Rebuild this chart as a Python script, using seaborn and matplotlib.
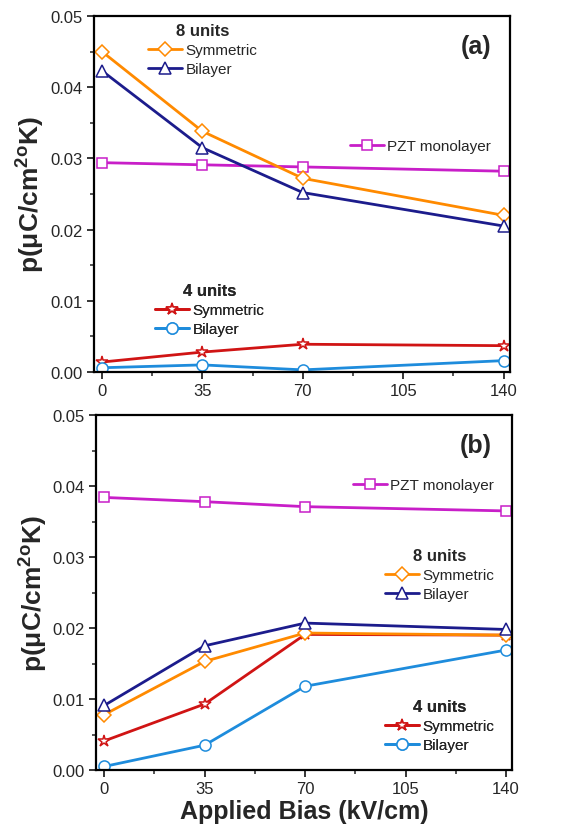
import matplotlib
matplotlib.use("Agg")
import matplotlib.pyplot as plt
from matplotlib.lines import Line2D
from matplotlib.ticker import MultipleLocator, FormatStrFormatter
import seaborn as sns

bias = [0, 35, 70, 140]

# panel (a)
a_pzt = [0.0294, 0.0291, 0.0288, 0.0282]
a_sym8 = [0.0450, 0.0338, 0.0272, 0.0220]
a_bil8 = [0.0423, 0.0315, 0.0252, 0.0205]
a_sym4 = [0.0014, 0.0028, 0.0039, 0.0037]
a_bil4 = [0.0006, 0.0010, 0.0003, 0.0016]

# panel (b)
b_pzt = [0.0384, 0.0378, 0.0371, 0.0365]
b_sym8 = [0.0078, 0.0153, 0.0193, 0.0190]
b_bil8 = [0.0091, 0.0175, 0.0207, 0.0198]
b_sym4 = [0.0041, 0.0093, 0.0191, 0.0190]
b_bil4 = [0.0005, 0.0035, 0.0118, 0.0169]

xticks = [0, 35, 70, 105, 140]

c_pzt = "#C81EC8"
c_sym8 = "#FF8A00"
c_bil8 = "#1C1C8C"
c_sym4 = "#D01414"
c_bil4 = "#1E8CDC"

sns.set_theme(style="ticks")
plt.rcParams["font.family"] = ["Liberation Sans", "DejaVu Sans"]
plt.rcParams["mathtext.fontset"] = "custom"
plt.rcParams["mathtext.rm"] = "Liberation Sans"
plt.rcParams["mathtext.bf"] = "Liberation Sans:bold"

fig = plt.figure(figsize=(5.66, 8.28), dpi=100)
ax1 = fig.add_axes([0.166, 0.5495, 0.735, 0.430])
ax2 = fig.add_axes([0.170, 0.0688, 0.735, 0.4287])


def series(ax, y, color, marker, ms=8):
    sns.lineplot(x=bias, y=y, ax=ax, color=color, marker=marker, linewidth=2,
                 markersize=ms, markerfacecolor="white", markeredgecolor=color,
                 markeredgewidth=1.1, legend=False)


def handle(color, marker, ms=8):
    return Line2D([], [], color=color, marker=marker, linewidth=2, markersize=ms,
                  markerfacecolor="white", markeredgecolor=color, markeredgewidth=1.1)


def add_legend(ax, handles, labels, anchor, title=None):
    leg = ax.legend(handles, labels, title=title, loc="upper left",
                    bbox_to_anchor=anchor, bbox_transform=fig.transFigure,
                    frameon=False, fontsize=11, handlelength=2.2,
                    handletextpad=0.25, labelspacing=0.33, borderpad=0,
                    borderaxespad=0, title_fontproperties={"weight": "bold", "size": 12})
    ax.add_artist(leg)
    return leg


for ax, data in [(ax1, (a_pzt, a_sym8, a_bil8, a_sym4, a_bil4)),
                 (ax2, (b_pzt, b_sym8, b_bil8, b_sym4, b_bil4))]:
    pzt, sym8, bil8, sym4, bil4 = data
    series(ax, pzt, c_pzt, "s", 7)
    series(ax, sym4, c_sym4, "*", 9)
    series(ax, bil4, c_bil4, "o", 8)
    series(ax, sym8, c_sym8, "D", 7)
    series(ax, bil8, c_bil8, "^", 8)

    ax.set_xlim(-2.8, 142.2)
    ax.set_ylim(0, 0.05)
    ax.set_xticks(xticks)
    ax.set_yticks([0, 0.01, 0.02, 0.03, 0.04, 0.05])
    ax.xaxis.set_minor_locator(MultipleLocator(17.5))
    ax.yaxis.set_minor_locator(MultipleLocator(0.005))
    ax.yaxis.set_major_formatter(FormatStrFormatter("%.2f"))
    ax.tick_params(which="major", direction="out", length=5, width=1.3, labelsize=12, pad=3)
    ax.tick_params(which="minor", direction="out", length=3, width=1.1)
    ax.tick_params(top=False, right=False, which="both")
    for s in ax.spines.values():
        s.set_visible(True)
        s.set_linewidth(1.6)
        s.set_color("black")
    ax.set_ylabel(r"p(μC/cm$^{\mathbf{2o}}$K)", fontsize=19, fontweight="bold", labelpad=3)
    ax.set_xlabel("")

ax2.set_xlabel("Applied Bias (kV/cm)", fontsize=18, fontweight="bold", labelpad=2)

ax1.text(0.955, 0.915, "(a)", transform=ax1.transAxes, ha="right", va="center",
         fontsize=18, fontweight="bold")
ax2.text(0.95, 0.915, "(b)", transform=ax2.transAxes, ha="right", va="center",
         fontsize=18, fontweight="bold")

# legends panel (a)
add_legend(ax1, [handle(c_sym8, "D", 7), handle(c_bil8, "^", 8)], ["Symmetric", "Bilayer"],
           (148 / 566, 1 - 24 / 828), title="8 units")
add_legend(ax1, [handle(c_pzt, "s", 7)], ["PZT monolayer"], (350 / 566, 1 - 140 / 828))
add_legend(ax1, [handle(c_sym4, "*", 9), handle(c_bil4, "o", 8)], ["Symmetric", "Bilayer"],
           (155 / 566, 1 - 284 / 828), title="4 units")

# legends panel (b)
add_legend(ax2, [handle(c_pzt, "s", 7)], ["PZT monolayer"], (353 / 566, 1 - 479 / 828))
add_legend(ax2, [handle(c_sym8, "D", 7), handle(c_bil8, "^", 8)], ["Symmetric", "Bilayer"],
           (385 / 566, 1 - 549 / 828), title="8 units")
add_legend(ax2, [handle(c_sym4, "*", 9), handle(c_bil4, "o", 8)], ["Symmetric", "Bilayer"],
           (385 / 566, 1 - 700 / 828), title="4 units")

fig.savefig("out.png", dpi=100)
